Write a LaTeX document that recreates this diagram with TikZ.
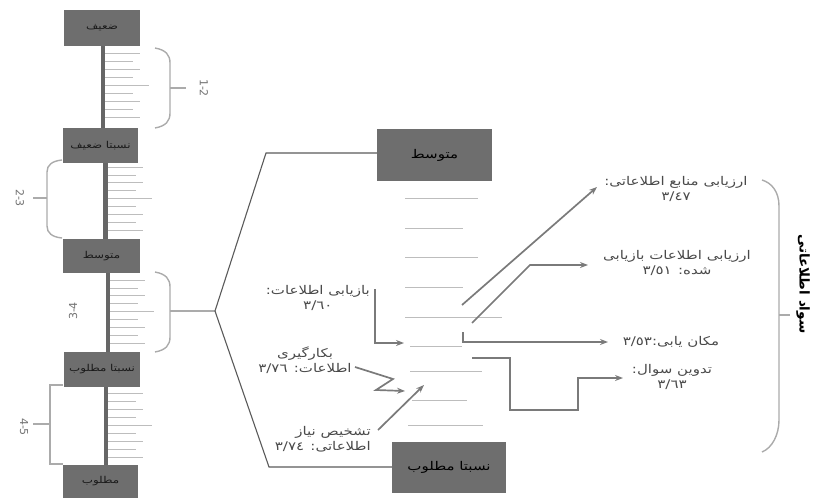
\documentclass[tikz,border=0pt]{standalone}
\usepackage{fontspec}
\setmainfont{DejaVu Sans}
\newfontfamily\fa[Script=Arabic, FakeStretch=1.25]{DejaVu Sans}
\newfontfamily\fat[Script=Arabic]{DejaVu Sans}
\TeXXeTstate=1
\usetikzlibrary{arrows.meta}
\definecolor{boxgray}{HTML}{6E6E6E}
\definecolor{bargray}{HTML}{666666}
\definecolor{tickgray}{HTML}{BDBDBD}
\definecolor{bracegray}{HTML}{ABABAB}
\definecolor{linegray}{HTML}{5A5A5A}
\definecolor{arrowgray}{HTML}{7A7A7A}
\definecolor{txtgray}{HTML}{4A4A4A}
\begin{document}
\begin{tikzpicture}[x=1pt,y=-1pt,
  lvl/.style={fill=boxgray, draw=none, inner sep=0pt, text=black!90,
    font=\fa\fontsize{9.5}{11}\selectfont},
  bigbox/.style={fill=boxgray, draw=none, inner sep=0pt, text=black,
    font=\fa\fontsize{12}{14}\selectfont},
  barline/.style={draw=bargray, line width=4.5pt},
  tickline/.style={draw=tickgray, line width=0.7pt},
  bracel/.style={draw=bracegray, line width=1.4pt},
  rng/.style={font=\fontsize{11}{13}\selectfont, text=black!55, inner sep=0pt},
  conn/.style={draw=linegray, line width=1.1pt},
  thin/.style={draw=tickgray, line width=0.8pt},
  arr/.style={draw=arrowgray, line width=1.7pt, line join=miter,
    -{Stealth[length=8pt,width=6pt]}},
  lab/.style={font=\fa\fontsize{12}{14.5}\selectfont, text=txtgray, align=center, inner sep=0pt},
]
\useasboundingbox (0,0) rectangle (813,498);

% ---------- left scale boxes ----------
\node[lvl, minimum width=76pt, minimum height=36pt] (b1) at (102,28) {\beginR ضعیف\endR};
\node[lvl, minimum width=75pt, minimum height=35pt] (b2) at (100.5,145.5) {\beginR نسبتا ضعیف\endR};
\node[lvl, minimum width=77pt, minimum height=34pt] (b3) at (101.5,256) {\beginR متوسط\endR};
\node[lvl, minimum width=76pt, minimum height=35pt] (b4) at (102,369.5) {\beginR نسبتا مطلوب\endR};
\node[lvl, minimum width=75pt, minimum height=33pt] (b5) at (100.5,481.5) {\beginR مطلوب\endR};

% ---------- bars and ticks ----------
\foreach \bx/\ya/\yb/\ys/\st in {103/46/128/53/8.1, 105.5/163/239/167/7.9, 108/273/352/280/7.9, 106/387/465/393/8} {
  \draw[barline] (\bx,\ya) -- (\bx,\yb);
  \foreach \i in {0,...,8} {
    \pgfmathsetmacro\yy{\ys+\i*\st}
    \pgfmathsetmacro\len{ifthenelse(\i==4,44,ifthenelse(mod(\i,2)==0,35,28))}
    \draw[tickline] (\bx+2,\yy) -- (\bx+2+\len,\yy);
  }
}

% ---------- braces ----------
\draw[bracel] (155,48) .. controls (166,50) and (170,55) .. (170,63) -- (170,113)
  .. controls (170,121) and (166,126) .. (155,128);
\coordinate (t12) at (186,88);
\draw[bracel] (170,88) -- (t12);
\node[rng, rotate=-90] (r12) at (204,88) {1-2};

\draw[bracel] (62,160) .. controls (52,161) and (47,165) .. (47,172) -- (47,226)
  .. controls (47,233) and (52,237) .. (62,238);
\coordinate (t23) at (33,198);
\draw[bracel] (47,198) -- (t23);
\node[rng, rotate=-90] (r23) at (20,198) {2-3};

\draw[bracel] (155,272) .. controls (166,274) and (170,279) .. (170,287) -- (170,337)
  .. controls (170,345) and (166,350) .. (155,352);
\coordinate (hub) at (215,311);
\draw[bracel] (170,311) -- (hub);
\node[rng, rotate=90] (r34) at (73,311) {3-4};

\draw[bracel] (63,385) -- (50,385) -- (50,464) -- (63,464);
\coordinate (t45) at (33,424);
\draw[bracel] (50,424) -- (t45);
\node[rng, rotate=-90] (r45) at (24,427) {4-5};

% ---------- middle boxes ----------
\node[bigbox, minimum width=115pt, minimum height=52pt] (m1) at (434.5,155) {\beginR متوسط\endR};
\node[bigbox, minimum width=114pt, minimum height=51pt] (m2) at (449,467.5) {\beginR نسبتا مطلوب\endR};
\draw[conn] (hub) -- (266,153) -- (m1.west |- 0,153);
\draw[conn] (hub) -- (269,467) -- (m2.west |- 0,467);

% ---------- thin lines ----------
\foreach \y/\a/\b in {198/405/478, 228/405/463, 257/405/478, 287/405/463, 317/405/502,
   346/410/462, 371/410/482, 400/412/467, 425/408/483}
  \draw[thin] (\a,\y) -- (\b,\y);

% ---------- left labels and arrows ----------
\node[lab, anchor=east] (l1) at (370,298) {\beginR بازیابی اطلاعات:\endR\\\beginR\beginL ٣/٦٠\endL\endR};
\node[lab] (l2) at (305,360) {\beginR بکارگیری\endR\\\beginR اطلاعات: \beginL٣/٧٦\endL\endR};
\node[lab, align=right, anchor=east] (l3) at (371,439) {\beginR تشخیص نیاز\endR\\\beginR اطلاعاتی: \beginL٣/٧٤\endL\endR};

\coordinate (c1a) at (375,289);
\coordinate (c1b) at (404,343);
\draw[arr] (c1a) -- (375,343) -- (c1b);
\coordinate (c2a) at (355,367);
\coordinate (c2b) at (405,391);
\draw[arr] (c2a) -- (393,379) -- (376,390) -- (c2b);
\coordinate (c3a) at (378,430);
\coordinate (c3b) at (424,385);
\draw[arr] (c3a) -- (c3b);

% ---------- right labels and arrows ----------
\node[lab] (rA) at (676,189) {\beginR ارزیابی منابع اطلاعاتی:\endR\\\beginR\beginL ٣/٤٧\endL\endR};
\node[lab] (rB) at (677,263) {\beginR ارزیابی اطلاعات بازیابی\endR\\\beginR شده: \beginL٣/٥١\endL\endR};
\node[lab] (rC) at (671,342) {\beginR مکان یابی:\beginL٣/٥٣\endL\endR};
\node[lab] (rD) at (672,377) {\beginR تدوین سوال:\endR\\\beginR\beginL ٣/٦٣\endL\endR};

\coordinate (aA) at (462,305);
\draw[arr] (aA) -- (597,187);
\coordinate (aB) at (472,323);
\draw[arr] (aB) -- (530,265) -- (588,265);
\coordinate (aC) at (463,332);
\draw[arr] (aC) -- (463,342) -- (608,342);
\coordinate (aD) at (472,358);
\draw[arr] (aD) -- (510,358) -- (510,410) -- (578,410) -- (578,378) -- (623,378);

% ---------- right brace and title ----------
\draw[bracel] (762,180) .. controls (772,183) and (779,192) .. (779,206) -- (779,420)
  .. controls (779,435) and (772,448) .. (762,452);
\coordinate (tR) at (790,315);
\draw[bracel] (779,315) -- (tR);
\node[font=\fat\bfseries\fontsize{13.5}{15}\selectfont, rotate=-90, inner sep=0pt] (title) at (803,284) {\beginR سواد اطلاعاتی\endR};
\end{tikzpicture}
\end{document}
